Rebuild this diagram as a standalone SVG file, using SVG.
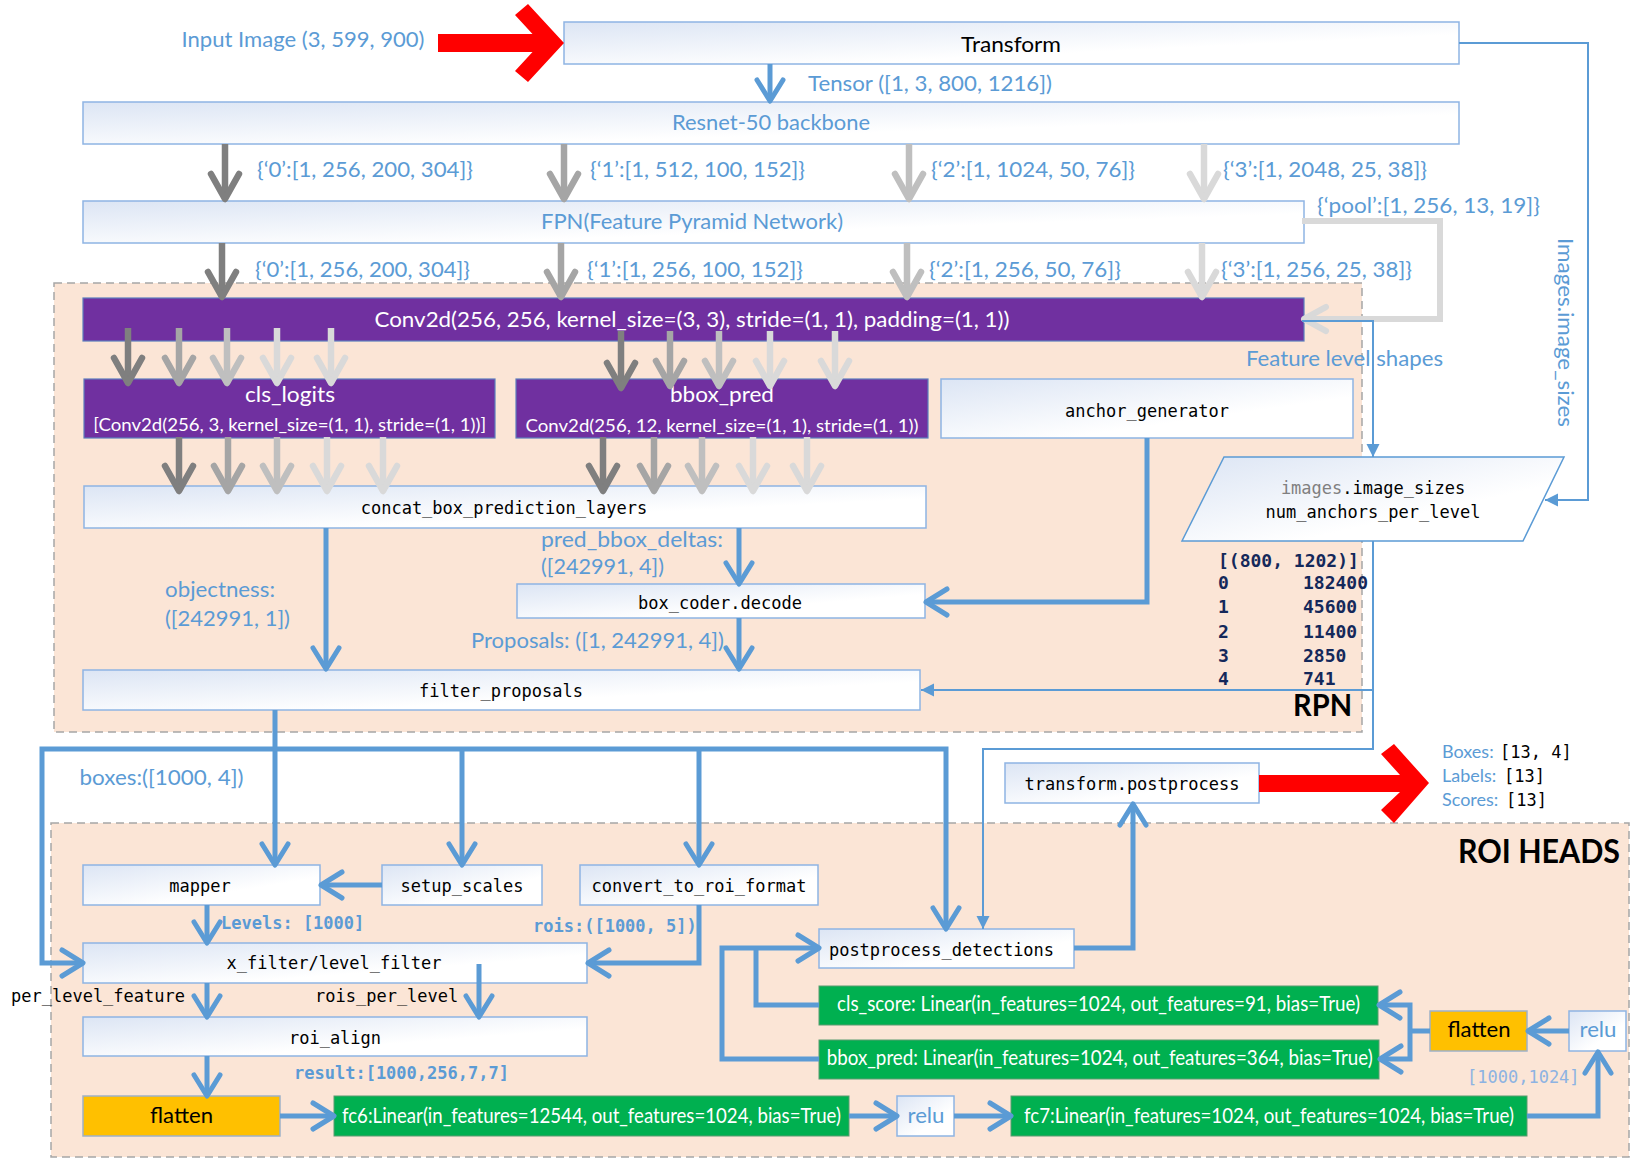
<svg xmlns="http://www.w3.org/2000/svg" width="1639" height="1168" viewBox="0 0 1639 1168">
<style>
 .box{fill:url(#gBox);stroke:#8EB4E3;stroke-width:1.5}
 .pur{fill:#7030A0;stroke:#5B7DBD;stroke-width:1.2}
 .grn{fill:#00B050;stroke:#5A9C70;stroke-width:1}
 .yel{fill:#FFC000;stroke:#9FB1C8;stroke-width:1.5}
 .reg{fill:#FBE5D6;stroke:#A6A6A6;stroke-width:1.5;stroke-dasharray:8 5}
 .cb{fill:none;stroke:#5B9BD5;stroke-width:5;marker-end:url(#mB)}
 .ct{fill:none;stroke:#5B9BD5;stroke-width:2;marker-end:url(#mT)}
 .g{fill:none;stroke-width:6.5}
 .ga{stroke:#7F7F7F;marker-end:url(#mGa)}
 .gb{stroke:#A5A5A5;marker-end:url(#mGb)}
 .gc{stroke:#BFBFBF;marker-end:url(#mGc)}
 .gd{stroke:#D9D9D9;marker-end:url(#mGd)}
 .red{fill:#FF0000}
 .s{font-family:Lato,"Liberation Sans",sans-serif;font-size:22px}
 .m{font-family:"DejaVu Sans Mono","Liberation Mono",monospace;font-size:17px}
 .bl{fill:#5B9BD5}
 .wh{fill:#FFFFFF}
 .bk{fill:#000000}
 .nv{fill:#14285A;font-weight:bold;font-size:18px}
 .c{text-anchor:middle}
 .b{font-weight:bold}
</style>
<defs>
 <linearGradient id="gBox" x1="0" y1="0" x2="1" y2="1">
  <stop offset="0" stop-color="#DCE5F4"/>
  <stop offset="0.65" stop-color="#FFFFFF"/>
 </linearGradient>
 <marker id="mB" markerUnits="userSpaceOnUse" markerWidth="60" markerHeight="60" viewBox="-30 -30 60 60" refX="0" refY="0" orient="auto-start-reverse" overflow="visible">
  <path d="M-21,-13 L0,0 L-21,13" fill="none" stroke="#5B9BD5" stroke-width="5" stroke-linecap="round" stroke-linejoin="round"/>
 </marker>
 <marker id="mT" markerUnits="userSpaceOnUse" markerWidth="40" markerHeight="40" viewBox="-20 -20 40 40" refX="0" refY="0" orient="auto" overflow="visible">
  <path d="M-13,-6.5 L0,0 L-13,6.5 Z" fill="#5B9BD5"/>
 </marker>
 <marker id="mGa" markerUnits="userSpaceOnUse" markerWidth="60" markerHeight="60" viewBox="-30 -30 60 60" refX="0" refY="0" orient="auto" overflow="visible">
  <path d="M-25,-14 L0,0 L-25,14" fill="none" stroke="#7F7F7F" stroke-width="6.5" stroke-linecap="round" stroke-linejoin="round"/>
 </marker>
 <marker id="mGb" markerUnits="userSpaceOnUse" markerWidth="60" markerHeight="60" viewBox="-30 -30 60 60" refX="0" refY="0" orient="auto" overflow="visible">
  <path d="M-25,-14 L0,0 L-25,14" fill="none" stroke="#A5A5A5" stroke-width="6.5" stroke-linecap="round" stroke-linejoin="round"/>
 </marker>
 <marker id="mGc" markerUnits="userSpaceOnUse" markerWidth="60" markerHeight="60" viewBox="-30 -30 60 60" refX="0" refY="0" orient="auto" overflow="visible">
  <path d="M-25,-14 L0,0 L-25,14" fill="none" stroke="#BFBFBF" stroke-width="6.5" stroke-linecap="round" stroke-linejoin="round"/>
 </marker>
 <marker id="mGd" markerUnits="userSpaceOnUse" markerWidth="60" markerHeight="60" viewBox="-30 -30 60 60" refX="0" refY="0" orient="auto" overflow="visible">
  <path d="M-25,-14 L0,0 L-25,14" fill="none" stroke="#D9D9D9" stroke-width="6.5" stroke-linecap="round" stroke-linejoin="round"/>
 </marker>
 <marker id="mGs" markerUnits="userSpaceOnUse" markerWidth="60" markerHeight="60" viewBox="-30 -30 60 60" refX="0" refY="0" orient="auto" overflow="visible">
  <path d="M-22,-12 L0,0 L-22,12" fill="none" stroke="#D9D9D9" stroke-width="6" stroke-linecap="round" stroke-linejoin="round"/>
 </marker>
</defs>

<rect width="1639" height="1168" fill="#FFFFFF"/>

<g id="rpn-region">
 <rect class="reg" x="54" y="283" width="1308" height="449"/>
 <text class="s bk b" x="1352" y="716" text-anchor="end" style="font-size:30px" textLength="59" lengthAdjust="spacingAndGlyphs">RPN</text>
</g>
<g id="roi-region">
 <rect class="reg" x="51" y="823" width="1578" height="334"/>
 <text class="s bk b" x="1620" y="863" text-anchor="end" style="font-size:32px" textLength="162" lengthAdjust="spacingAndGlyphs">ROI HEADS</text>
</g>

<g id="nodes">
 <g id="transform"><rect class="box" x="564" y="22" width="895" height="42"/><text class="s bk c" x="1011" y="51.5" textLength="100" lengthAdjust="spacingAndGlyphs">Transform</text></g>
 <g id="resnet"><rect class="box" x="83" y="102" width="1376" height="42"/><text class="s bl c" x="771" y="129.5" textLength="198" lengthAdjust="spacingAndGlyphs">Resnet-50 backbone</text></g>
 <g id="fpn"><rect class="box" x="83" y="201" width="1221" height="42"/><text class="s bl c" x="692" y="229" textLength="302" lengthAdjust="spacingAndGlyphs">FPN(Feature Pyramid Network)</text></g>
 <g id="conv"><rect class="pur" x="83" y="298" width="1221" height="43"/><text class="s wh c" x="692" y="326.5" textLength="635" lengthAdjust="spacingAndGlyphs">Conv2d(256, 256, kernel_size=(3, 3), stride=(1, 1), padding=(1, 1))</text></g>
 <g id="cls_logits"><rect class="pur" x="84" y="379" width="411" height="59"/><text class="s wh c" x="290" y="401.5" textLength="90" lengthAdjust="spacingAndGlyphs">cls_logits</text><text class="s wh c" x="289.7" y="431" style="font-size:18px" textLength="393" lengthAdjust="spacingAndGlyphs">[Conv2d(256, 3, kernel_size=(1, 1), stride=(1, 1))]</text></g>
 <g id="bbox_pred_rpn"><rect class="pur" x="516" y="379" width="412" height="59"/><text class="s wh c" x="722" y="401.5" textLength="104" lengthAdjust="spacingAndGlyphs">bbox_pred</text><text class="s wh c" x="722" y="431.5" style="font-size:18px" textLength="393" lengthAdjust="spacingAndGlyphs">Conv2d(256, 12, kernel_size=(1, 1), stride=(1, 1))</text></g>
 <g id="anchor_generator"><rect class="box" x="941" y="379" width="412" height="59"/><text class="m bk c" x="1147" y="416.5">anchor_generator</text></g>
 <g id="concat"><rect class="box" x="84" y="486" width="842" height="42"/><text class="m bk c" x="504" y="513.5">concat_box_prediction_layers</text></g>
 <g id="image_sizes"><polygon points="1224,457 1564,457 1523,541 1182,541" fill="url(#gBox)" stroke="#5B9BD5" stroke-width="1.5"/><text class="m bk c" x="1373" y="493.5"><tspan fill="#808080">images</tspan>.image_sizes</text><text class="m bk c" x="1373" y="517.5">num_anchors_per_level</text></g>
 <g id="anchors_table">
  <text class="m nv" x="1218" y="567">[(800, 1202)]</text>
  <text class="m nv" x="1218" y="589">0</text><text class="m nv" x="1303" y="589">182400</text>
  <text class="m nv" x="1218" y="613">1</text><text class="m nv" x="1303" y="613">45600</text>
  <text class="m nv" x="1218" y="637.5">2</text><text class="m nv" x="1303" y="637.5">11400</text>
  <text class="m nv" x="1218" y="661.5">3</text><text class="m nv" x="1303" y="661.5">2850</text>
  <text class="m nv" x="1218" y="685">4</text><text class="m nv" x="1303" y="685">741</text>
 </g>
 <g id="box_coder"><rect class="box" x="517" y="584" width="408" height="34"/><text class="m bk c" x="720" y="608.5">box_coder.decode</text></g>
 <g id="filter_proposals"><rect class="box" x="83" y="670" width="837" height="40"/><text class="m bk c" x="501" y="696.5">filter_proposals</text></g>
 <g id="transform_postprocess"><rect class="box" x="1005" y="763" width="254" height="40"/><text class="m bk c" x="1132" y="789.5">transform.postprocess</text></g>
 <g id="mapper"><rect class="box" x="83" y="865" width="237" height="40"/><text class="m bk c" x="200" y="891.5">mapper</text></g>
 <g id="setup_scales"><rect class="box" x="382" y="865" width="160" height="40"/><text class="m bk c" x="462" y="891.5">setup_scales</text></g>
 <g id="convert_to_roi_format"><rect class="box" x="580" y="865" width="238" height="40"/><text class="m bk c" x="699" y="891.5">convert_to_roi_format</text></g>
 <g id="level_filter"><rect class="box" x="83" y="943" width="504" height="40"/><text class="m bk c" x="334" y="969">x_filter/level_filter</text></g>
 <g id="roi_align"><rect class="box" x="83" y="1017" width="504" height="39"/><text class="m bk c" x="335" y="1043.5">roi_align</text></g>
 <g id="flatten1"><rect class="yel" x="83" y="1096" width="197" height="40"/><text class="s bk c" x="181.5" y="1122.5" textLength="63" lengthAdjust="spacingAndGlyphs">flatten</text></g>
 <g id="fc6"><rect class="grn" x="334" y="1096" width="515" height="40"/><text class="s wh c" x="591.5" y="1122.5" textLength="499" lengthAdjust="spacingAndGlyphs">fc6:Linear(in_features=12544, out_features=1024, bias=True)</text></g>
 <g id="relu1"><rect class="box" x="897" y="1096" width="57" height="40"/><text class="s bl c" x="926" y="1122.5" textLength="37" lengthAdjust="spacingAndGlyphs">relu</text></g>
 <g id="fc7"><rect class="grn" x="1011" y="1096" width="516" height="40"/><text class="s wh c" x="1269" y="1122.5" textLength="490" lengthAdjust="spacingAndGlyphs">fc7:Linear(in_features=1024, out_features=1024, bias=True)</text></g>
 <g id="relu2"><rect class="box" x="1569" y="1011" width="57" height="40"/><text class="s bl c" x="1598" y="1036.5" textLength="37" lengthAdjust="spacingAndGlyphs">relu</text></g>
 <g id="flatten2"><rect class="yel" x="1430" y="1011" width="97" height="40"/><text class="s bk c" x="1479" y="1036.5" textLength="63" lengthAdjust="spacingAndGlyphs">flatten</text></g>
 <g id="cls_score"><rect class="grn" x="819" y="986" width="559" height="39"/><text class="s wh c" x="1098.5" y="1011" textLength="523" lengthAdjust="spacingAndGlyphs">cls_score: Linear(in_features=1024, out_features=91, bias=True)</text></g>
 <g id="bbox_pred_roi"><rect class="grn" x="819" y="1040" width="560" height="39"/><text class="s wh c" x="1099.7" y="1065" textLength="546" lengthAdjust="spacingAndGlyphs">bbox_pred: Linear(in_features=1024, out_features=364, bias=True)</text></g>
 <g id="postprocess_detections"><rect class="box" x="819" y="929" width="255" height="39"/><text class="m bk c" x="941.5" y="955.5">postprocess_detections</text></g>
</g>

<g id="connectors">
 <polygon class="red" points="438,34 532.5,34 515,15 528,4 564,43 528,82 515,71 532.5,52 438,52"/>
 <polygon class="red" points="1259,775 1400,775 1381,754 1394,744 1429,783 1394,823 1381,810 1400,792 1259,792"/>

 <path class="g ga" d="M225,144V199"/>
 <path class="g gb" d="M564,144V199"/>
 <path class="g gc" d="M909,144V199"/>
 <path class="g gd" d="M1204,144V199"/>
 <path class="g ga" d="M222,243V297"/>
 <path class="g gb" d="M561,243V297"/>
 <path class="g gc" d="M907,243V297"/>
 <path class="g gd" d="M1202,243V297"/>
 <path fill="none" stroke="#D9D9D9" stroke-width="6" marker-end="url(#mGs)" d="M1302,221H1440V319H1304"/>

 <path class="g ga" d="M128,328V383"/>
 <path class="g gb" d="M179,328V383"/>
 <path class="g gc" d="M227,328V383"/>
 <path class="g gd" d="M277,328V383"/>
 <path class="g gd" d="M331,328V383"/>
 <path class="g ga" d="M621,331V388"/>
 <path class="g gb" d="M670,331V386"/>
 <path class="g gc" d="M719,331V386"/>
 <path class="g gd" d="M770,331V386"/>
 <path class="g gd" d="M835,331V386"/>
 <path class="g ga" d="M179,437V491"/>
 <path class="g gb" d="M228,437V491"/>
 <path class="g gc" d="M277,437V491"/>
 <path class="g gd" d="M327,437V491"/>
 <path class="g gd" d="M383,437V491"/>
 <path class="g ga" d="M603,437V491"/>
 <path class="g gb" d="M654,437V491"/>
 <path class="g gc" d="M702,437V491"/>
 <path class="g gd" d="M753,437V491"/>
 <path class="g gd" d="M807,437V491"/>

 <path class="ct" d="M1459,43H1588V500H1545"/>
 <path class="ct" d="M1302,321H1373V457"/>
 <path class="ct" d="M1373,541V749H983V929"/>
 <path class="ct" d="M1373,690H921"/>

 <path class="cb" d="M770,64V101"/>
 <path class="cb" d="M1147,438V602H926"/>
 <path class="cb" d="M326,528V669"/>
 <path class="cb" d="M739,528V584"/>
 <path class="cb" d="M739,618V669"/>
 <path class="cb" d="M275,710V865"/>
 <path class="cb" style="marker-start:url(#mB)" d="M946,929V749H42V963H83"/>
 <path class="cb" d="M462,749V865"/>
 <path class="cb" d="M699,749V865"/>
 <path class="cb" d="M382,885H321"/>
 <path class="cb" d="M207,905V943"/>
 <path class="cb" d="M699,905V963H588"/>
 <path class="cb" d="M207,983V1017"/>
 <path class="cb" d="M479,964V1017"/>
 <path class="cb" d="M207,1056V1096"/>
 <path class="cb" d="M280,1116H334"/>
 <path class="cb" d="M849,1116H897"/>
 <path class="cb" d="M954,1116H1011"/>
 <path class="cb" d="M1527,1116H1598V1052"/>
 <path class="cb" d="M1569,1031H1528"/>
 <path class="cb" style="marker-end:none" d="M1430,1031H1410"/>
 <path class="cb" style="marker-start:url(#mB)" d="M1379,1005H1410V1059H1380"/>
 <path class="cb" style="marker-end:none" d="M819,1005H756V948"/>
 <path class="cb" d="M819,1059H722V948H819"/>
 <path class="cb" d="M1074,948H1133V804"/>
</g>

<g id="labels">
 <text class="s bl" x="181.5" y="46.5" textLength="243" lengthAdjust="spacingAndGlyphs">Input Image (3, 599, 900)</text>
 <text class="s bl" x="808" y="91" textLength="244" lengthAdjust="spacingAndGlyphs">Tensor ([1, 3, 800, 1216])</text>
 <text class="s bl" x="257" y="177" textLength="216" lengthAdjust="spacingAndGlyphs">{‘0’:[1, 256, 200, 304]}</text>
 <text class="s bl" x="590" y="177" textLength="215" lengthAdjust="spacingAndGlyphs">{‘1’:[1, 512, 100, 152]}</text>
 <text class="s bl" x="931" y="177" textLength="204" lengthAdjust="spacingAndGlyphs">{‘2’:[1, 1024, 50, 76]}</text>
 <text class="s bl" x="1223" y="177" textLength="204" lengthAdjust="spacingAndGlyphs">{‘3’:[1, 2048, 25, 38]}</text>
 <text class="s bl" x="1317" y="213" textLength="223" lengthAdjust="spacingAndGlyphs">{‘pool’:[1, 256, 13, 19]}</text>
 <text class="s bl" x="255" y="276.5" textLength="215" lengthAdjust="spacingAndGlyphs">{‘0’:[1, 256, 200, 304]}</text>
 <text class="s bl" x="587" y="276.5" textLength="216" lengthAdjust="spacingAndGlyphs">{‘1’:[1, 256, 100, 152]}</text>
 <text class="s bl" x="929" y="276.5" textLength="192" lengthAdjust="spacingAndGlyphs">{‘2’:[1, 256, 50, 76]}</text>
 <text class="s bl" x="1221" y="276.5" textLength="191" lengthAdjust="spacingAndGlyphs">{‘3’:[1, 256, 25, 38]}</text>
 <text class="s bl" x="1246" y="366" textLength="197" lengthAdjust="spacingAndGlyphs">Feature level shapes</text>
 <text class="s bl" transform="translate(1558,238) rotate(90)" x="0" y="0" textLength="189" lengthAdjust="spacingAndGlyphs">Images.image_sizes</text>
 <text class="s bl" x="541" y="546.5" textLength="182" lengthAdjust="spacingAndGlyphs">pred_bbox_deltas:</text>
 <text class="s bl" x="541" y="574" textLength="123" lengthAdjust="spacingAndGlyphs">([242991, 4])</text>
 <text class="s bl" x="165" y="597" textLength="110" lengthAdjust="spacingAndGlyphs">objectness:</text>
 <text class="s bl" x="165" y="626" textLength="125" lengthAdjust="spacingAndGlyphs">([242991, 1])</text>
 <text class="s bl" x="471" y="648" textLength="253" lengthAdjust="spacingAndGlyphs">Proposals: ([1, 242991, 4])</text>
 <text class="s bl" x="79.5" y="785" textLength="164" lengthAdjust="spacingAndGlyphs">boxes:([1000, 4])</text>
 <text class="s bl" x="1442" y="757.5" style="font-size:18px">Boxes:</text><text class="m bk" x="1500" y="757.5">[13, 4]</text>
 <text class="s bl" x="1442" y="781.5" style="font-size:18px">Labels:</text><text class="m bk" x="1504" y="781.5">[13]</text>
 <text class="s bl" x="1442" y="806" style="font-size:18px">Scores:</text><text class="m bk" x="1506" y="806">[13]</text>
 <text class="m bl b" x="221" y="928.5">Levels: [1000]</text>
 <text class="m bl b" x="533" y="931.5">rois:([1000, 5])</text>
 <text class="m bk" x="11" y="1001.5">per_level_feature</text>
 <text class="m bk" x="315" y="1001.5">rois_per_level</text>
 <text class="m bl b" x="294" y="1079">result:[1000,256,7,7]</text>
 <text class="m" x="1467" y="1082.5" fill="#8DB3E2">[1000,1024]</text>
</g>
</svg>
